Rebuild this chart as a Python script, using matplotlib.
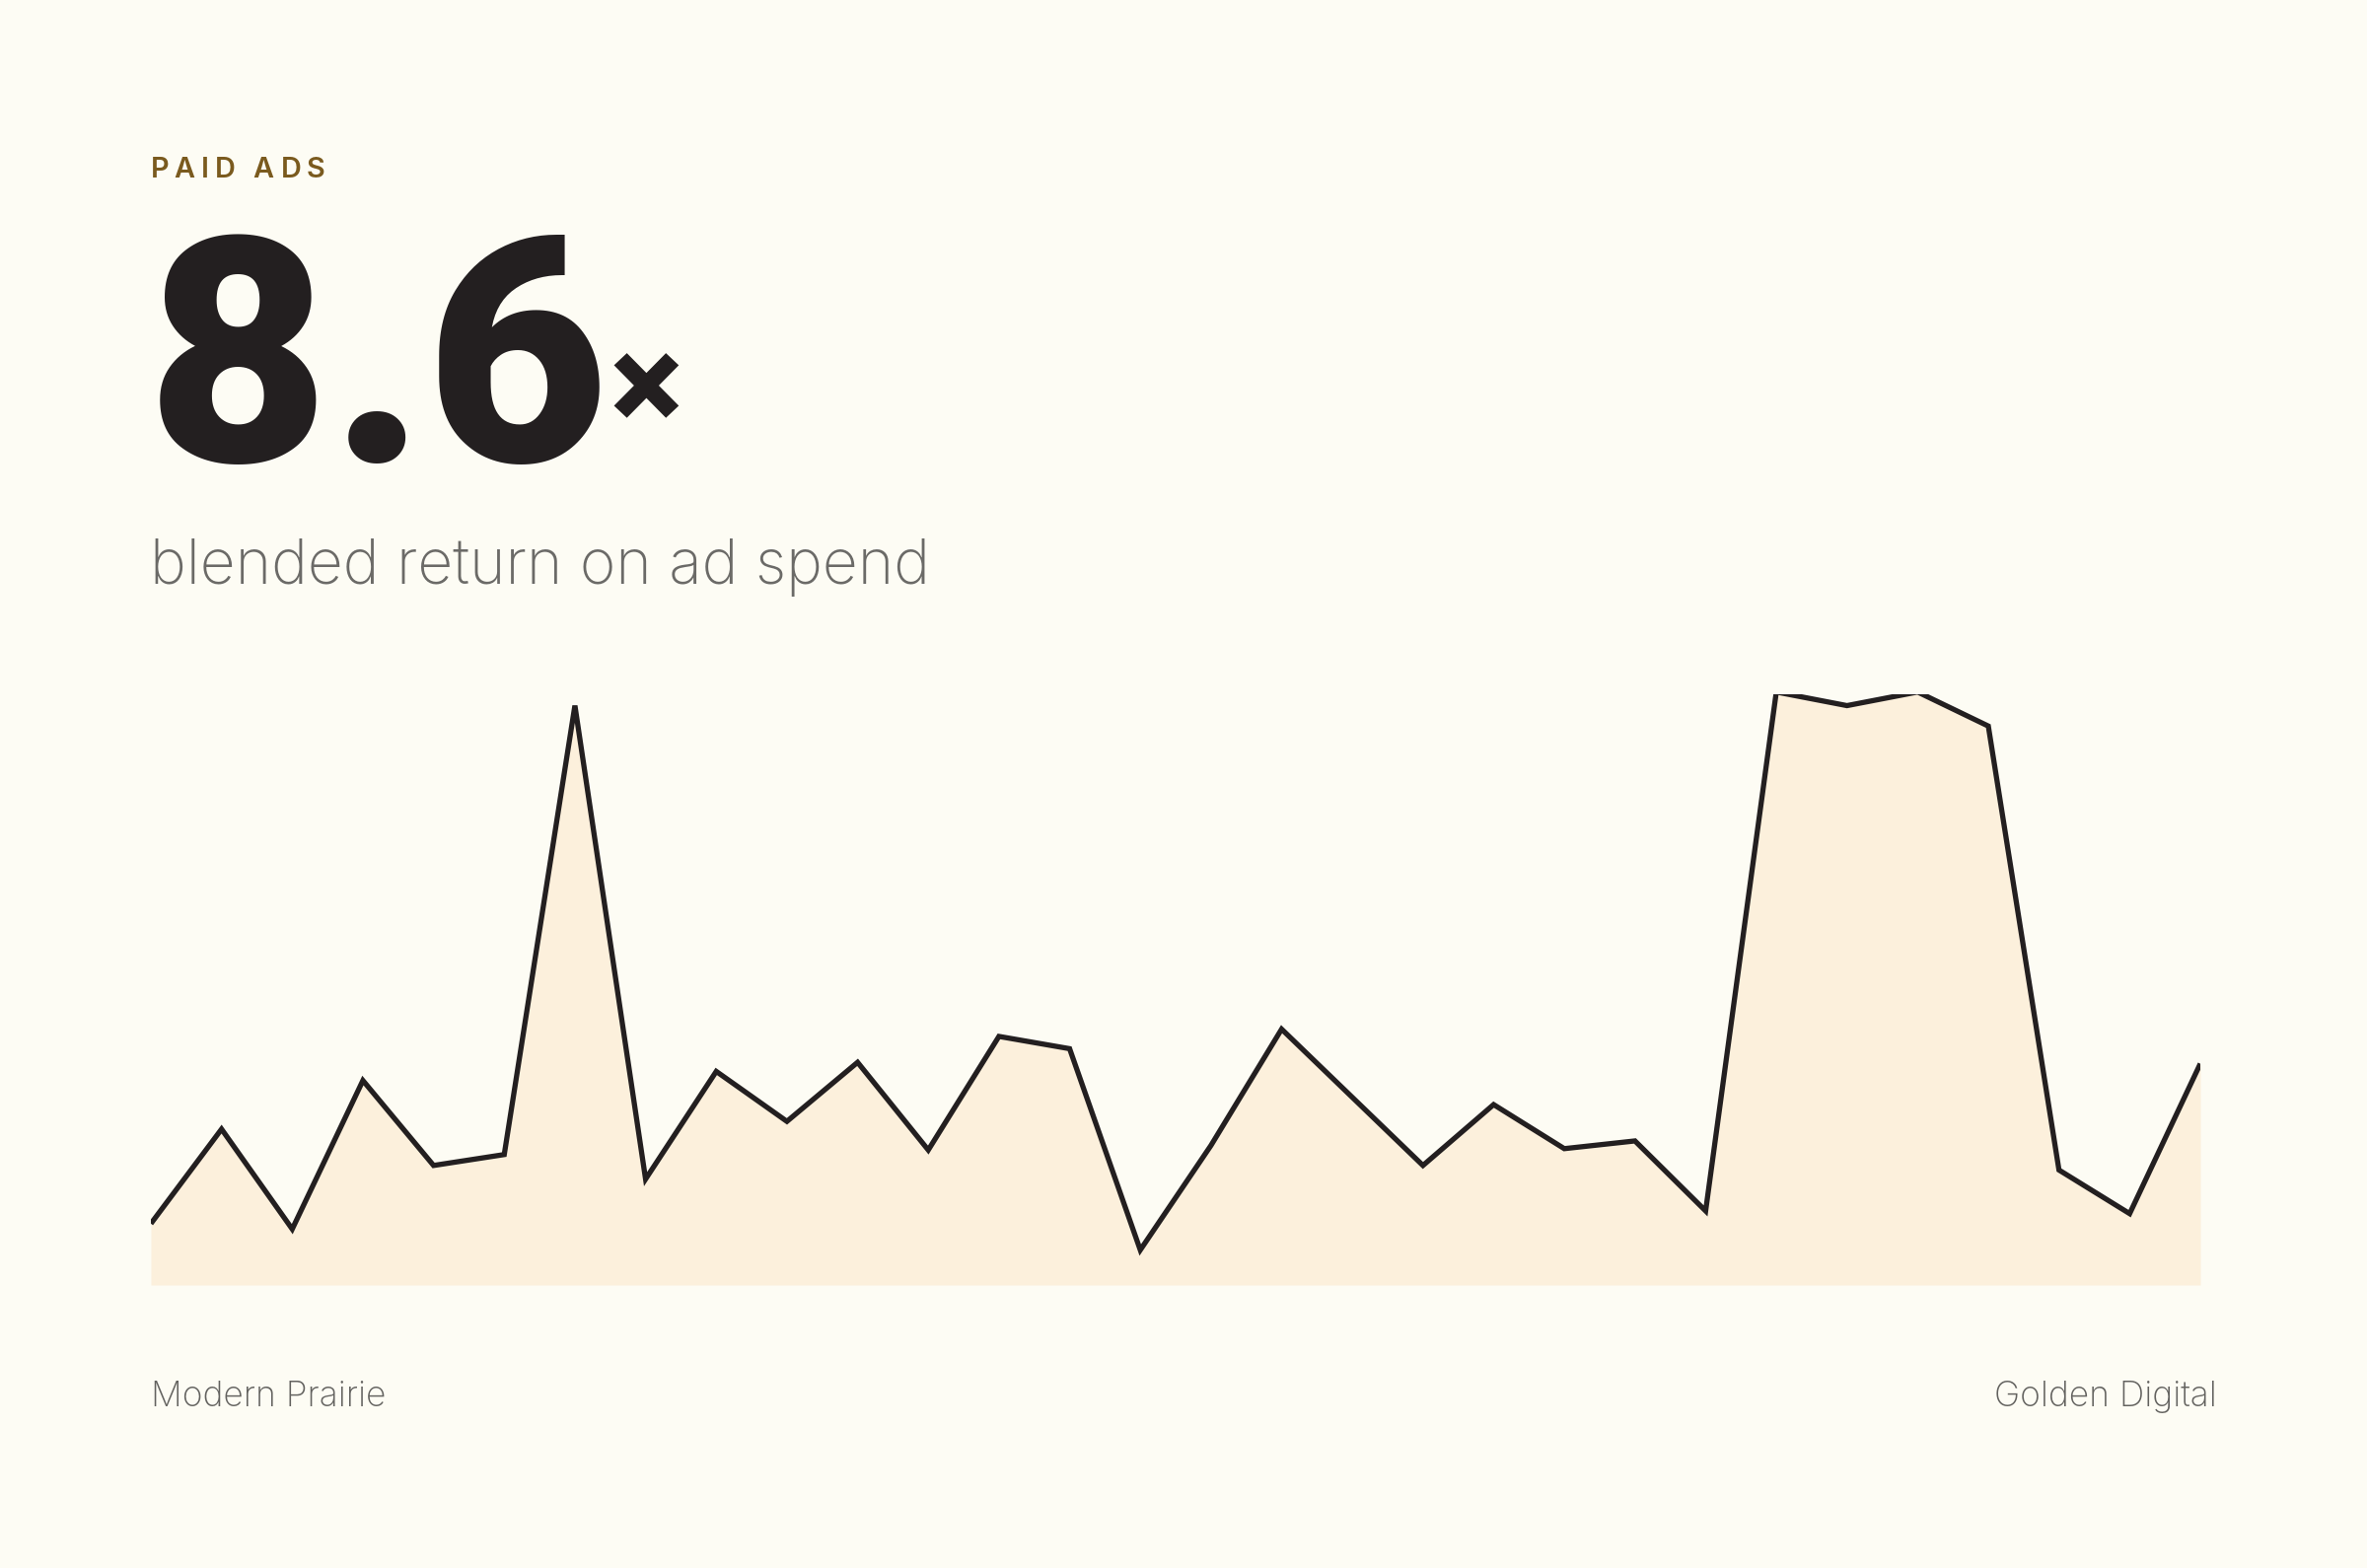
import matplotlib
matplotlib.use("Agg")
import matplotlib.pyplot as plt
import numpy as np
from matplotlib.font_manager import FontProperties
from matplotlib.textpath import TextPath

# ROAS trend (30 periods), values
periods = list(range(30))
roas = [1.35, 3.43, 1.23, 4.50, 2.63, 2.87, 12.75, 2.33, 4.70, 3.60,
        4.90, 2.97, 5.47, 5.20, 0.77, 3.07, 5.63, 4.13, 2.63, 3.97,
        3.00, 3.17, 1.63, 13.05, 12.75, 13.05, 12.30, 2.53, 1.57, 4.87]
y_max = 13.0

kicker = "PAID ADS"
headline = "8.6"
headline_unit = "×"
subtitle = "blended return on ad spend"
left_label = "Modern Prairie"
right_label = "Golden Digital"

BG = "#fdfcf4"
FILL = "#fcf0dc"
INK = "#231f20"
GOLD = "#7a5a1e"
GREY = "#6b6a67"
FOOT = "#63625f"

W, H, DPI = 2400, 1590, 200
PX = DPI / 72.0

fig = plt.figure(figsize=(W / DPI, H / DPI), dpi=DPI, facecolor=BG)
renderer = fig.canvas.get_renderer()


def ink(s, fp):
    return TextPath((0, 0), s, size=1, prop=fp).get_extents()


def put(s, x, y, size, fp, color, ha="left"):
    # x, y in pixels from top-left, y is the baseline
    return fig.text(x / W, 1 - y / H, s, fontproperties=fp, fontsize=size,
                    color=color, ha=ha, va="baseline")


def tracked(s, x0, y, size, fp, color, width):
    full = ink(s, fp)
    scale = size * PX
    lefts = []
    for i, ch in enumerate(s):
        if ch == " ":
            lefts.append(None)
            continue
        pre = ink(s[:i + 1], fp)
        c = ink(ch, fp)
        lefts.append((pre.x1 - (c.x1 - c.x0) - full.x0) * scale)
    natural = (full.x1 - full.x0) * scale
    track = (width - natural) / (len(s) - 1)
    for i, ch in enumerate(s):
        if lefts[i] is not None:
            put(ch, x0 + lefts[i] + i * track, y, size, fp, color)


def put_after(prev, s, y, size, fp, color, gap=0):
    # start a glyph right where the previous text box ends
    t = put(s, 0, y, size, fp, color)
    bb = t.get_window_extent(renderer)
    t.set_x((prev.get_window_extent(renderer).x1 + gap - bb.x0) / W)
    return t


# kicker
fp_kick = FontProperties(family="Inter", weight="semibold")
cap = ink("P", fp_kick)
size_kick = 21 / ((cap.y1 - cap.y0) * PX)
tracked(kicker, 153, 180, size_kick, fp_kick, GOLD, 174)

# headline number
fp_big = FontProperties(family="Roboto", weight="black")
e8 = ink("8", fp_big)
size_big = 233 / ((e8.y1 - e8.y0) * PX)
t = put(headline[0], 149, 468, size_big, fp_big, INK)
for ch in headline[1:]:
    t = put_after(t, ch, 468, size_big, fp_big, INK, gap=1)
ex = ink(headline_unit, fp_big)
size_x = 66 / ((ex.y1 - ex.y0) * PX)
put_after(t, headline_unit, 437, size_x, fp_big, INK, gap=1)

# subtitle
fp_sub = FontProperties(family="Inter", weight="light")
es = ink(subtitle, fp_sub)
size_sub = 780 / ((es.x1 - es.x0) * PX)
put(subtitle, 152, 592, size_sub, fp_sub, GREY)

# footer labels
fp_foot = FontProperties(family="Inter", weight="light")
ef = ink(left_label, fp_foot)
size_foot = 232 / ((ef.x1 - ef.x0) * PX)
put(left_label, 153, 1426, size_foot, fp_foot, FOOT)
put(right_label, 2248, 1426, size_foot, fp_foot, FOOT, ha="right")

# sparkline
ax = fig.add_axes([153 / W, 1 - 1303 / H, (2231 - 153) / W, (1303 - 704) / H])
ax.set_facecolor("none")
ax.fill_between(periods, roas, 0, color=FILL, lw=0)
ax.plot(periods, roas, color=INK, lw=1.9, solid_joinstyle="miter",
        solid_capstyle="butt")
ax.set_xlim(0, len(periods) - 1)
ax.set_ylim(0, y_max)
ax.axis("off")

fig.savefig("out.png", dpi=DPI, facecolor=BG)
